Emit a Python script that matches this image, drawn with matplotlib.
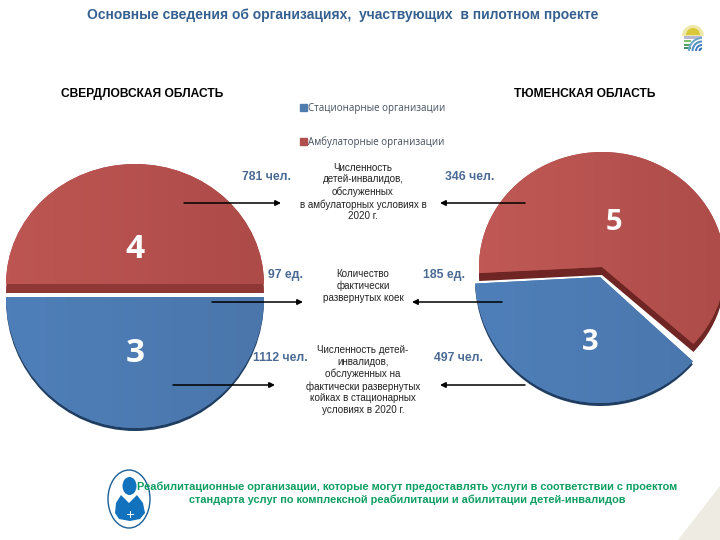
import matplotlib
matplotlib.use('Agg')
import matplotlib.pyplot as plt
from matplotlib.patches import Ellipse, Polygon, Patch, Wedge, Rectangle
from matplotlib.transforms import Affine2D
import numpy as np

plt.rcParams['font.family'] = ['Liberation Sans', 'DejaVu Sans']

# slices as drawn in the picture (the left one is an even split although it says 4 and 3)
left_shares = [50, 50]
left_numbers = ['4', '3']
right_shares = [5, 3]
right_numbers = ['5', '3']
series_names = ['Стационарные организации', 'Амбулаторные организации']

left_people_amb = '781 чел.'
left_beds = '97 ед.'
left_people_stat = '1112 чел.'
right_people_amb = '346 чел.'
right_beds = '185 ед.'
right_people_stat = '497 чел.'

title = 'Основные сведения об организациях,  участвующих  в пилотном проекте'
left_region = 'СВЕРДЛОВСКАЯ ОБЛАСТЬ'
right_region = 'ТЮМЕНСКАЯ ОБЛАСТЬ'
note_amb = 'Численность\nдетей-инвалидов,\nобслуженных\nв амбулаторных условиях в\n2020 г.'
note_beds = 'Количество\nфактически\nразвернутых коек'
note_stat = 'Численность детей-\nинвалидов,\nобслуженных на\nфактически развернутых\nкойках в стационарных\nусловиях в 2020 г.'
footer = ('Реабилитационные организации, которые могут предоставлять услуги в соответствии с проектом\n'
          'стандарта услуг по комплексной реабилитации и абилитации детей-инвалидов')

fig = plt.figure(figsize=(7.2, 5.4), dpi=100)
ax = fig.add_axes([0, 0, 1, 1])


def place(wedge, cx, cy, rx, ry):
    wedge.set_transform(Affine2D().scale(rx, -ry).translate(cx, cy) + ax.transData)


def shade(wedge, x0, x1, y0, y1, c0, c1):
    # horizontal gradient clipped to the slice
    c0 = np.array(matplotlib.colors.to_rgb(c0))
    c1 = np.array(matplotlib.colors.to_rgb(c1))
    t = np.linspace(0, 1, 64)[None, :, None]
    im = ax.imshow(c0 + (c1 - c0) * t, extent=[x0, x1, y1, y0], aspect='auto', zorder=3)
    im.set_clip_path(wedge)


def draw_pie(shares, start, geo):
    # geo: (cx, cy, rx, ry, depth, edge colour, light, dark) for each slice
    under = ax.pie(shares, startangle=start, colors=[g[5] for g in geo])[0]
    top = ax.pie(shares, startangle=start, colors=[g[7] for g in geo])[0]
    for w, u, g in zip(top, under, geo):
        cx, cy, rx, ry, depth = g[:5]
        u.set_zorder(1)
        w.set_zorder(2)
        place(u, cx, cy + depth, rx, ry)
        place(w, cx, cy, rx, ry)
        shade(w, cx - rx, cx + rx, cy - ry, cy + ry, g[6], g[7])


draw_pie(left_shares, 0, [
    (135, 284, 129, 120, 9, '#8f3836', '#bd5653', '#ad4b49'),
    (135, 297, 129, 131, 3, '#1f3d60', '#4f7fb9', '#4a76ab'),
])
draw_pie(right_shares, -42, [
    (602, 267, 123, 115, 8, '#6e2523', '#c05956', '#ad4c49'),
    (600, 277, 125, 126, 3, '#1f3d60', '#4f7fb9', '#4a76ab'),
])

ax.set_aspect('auto')
ax.set_xlim(0, 720)
ax.set_ylim(540, 0)
ax.axis('off')

for x, y, s, size in [(135, 249, left_numbers[0], 24), (135, 353, left_numbers[1], 24),
                      (614, 222, right_numbers[0], 21), (590, 343, right_numbers[1], 21)]:
    ax.text(x, y, s, color='white', fontsize=size, fontweight='bold', family=['Open Sans', 'DejaVu Sans'],
            ha='center', va='center', zorder=5)

ax.text(87, 15, title, color='#36608f', fontsize=10.0, fontweight='bold', ha='left', va='center')
ax.text(61, 94, left_region, color='black', fontsize=8.65, fontweight='bold', ha='left', va='center')
ax.text(514, 94, right_region, color='black', fontsize=8.65, fontweight='bold', ha='left', va='center')

for x, y, s in [(266, 177, left_people_amb), (286, 275, left_beds), (280, 358, left_people_stat),
                (470, 177, right_people_amb), (444, 275, right_beds), (459, 358, right_people_stat)]:
    ax.text(x, y, s, color='#4a6a94', fontsize=8.8, fontweight='bold', ha='center', va='center', zorder=6)

for y, s in [(192, note_amb), (286, note_beds), (380, note_stat)]:
    ax.text(363, y, s, color='#222222', fontsize=7.1, ha='center', va='center', linespacing=1.24, zorder=6)

for x0, x1, y in [(184, 281, 203), (212, 303, 302), (173, 275, 385),
                  (525, 440, 203), (502, 412, 302), (525, 440, 385)]:
    ax.annotate('', xy=(x1, y), xytext=(x0, y), zorder=6,
                arrowprops=dict(arrowstyle='-|>', color='black', lw=1.1, shrinkA=0, shrinkB=0, mutation_scale=8))

handles = [Patch(color='#4f7cac'), Patch(color='#b0504c')]
fig.legend(handles, series_names, loc='upper left', bbox_to_anchor=(0.416, 0.809), frameon=False,
           labelspacing=2.25, handlelength=0.75, handleheight=0.75, handletextpad=0.1,
           prop={'family': 'Open Sans', 'size': 7.0}, labelcolor='#44505f', borderpad=0, borderaxespad=0)

# person badge
ax.add_patch(Ellipse((129, 499), 42, 58, fc='white', ec='#1c5f96', lw=1.0, zorder=4))
ax.add_patch(Ellipse((129.5, 486), 14, 18, fc='#1272bd', zorder=5))
ax.add_patch(Polygon([(121, 495), (129, 503), (137, 495), (143, 503), (145, 513),
                      (140, 519), (130, 521), (119, 519), (115, 513), (116, 503)], fc='#1272bd', zorder=5))
ax.plot([130, 130], [511, 517], color='white', lw=0.7, zorder=6)
ax.plot([127, 133], [514, 514], color='white', lw=0.7, zorder=6)

ax.text(407, 493, footer, color='#0f9f62', fontsize=7.9, fontweight='bold', ha='center', va='center',
        linespacing=1.35, zorder=6)

# corner shape
ax.add_patch(Polygon([(678, 540), (720, 486), (720, 540)], fc='#eeebe2', zorder=1))

# logo
ax.add_patch(Wedge((693, 36), 11, 180, 360, fc='#eee9a8', zorder=4))
ax.add_patch(Wedge((693, 35), 7, 180, 360, fc='#d9c93a', zorder=5))
ax.add_patch(Rectangle((684, 36), 18, 2.5, fc='#b9b7d6', zorder=4))
for y, c in [(40, '#7fbf6e'), (43.5, '#4f9f6a'), (47, '#3e8f6a')]:
    ax.add_patch(Rectangle((684, y), 7, 2, fc=c, zorder=4))
for r, c in [(14, '#6fa8c8'), (10.5, '#4f8fc0'), (7, '#3f7fc0'), (3.5, '#2f6fb5')]:
    ax.add_patch(Wedge((702, 51), r, 180, 270, width=2, fc=c, zorder=4))

fig.savefig('out.png', dpi=100)
